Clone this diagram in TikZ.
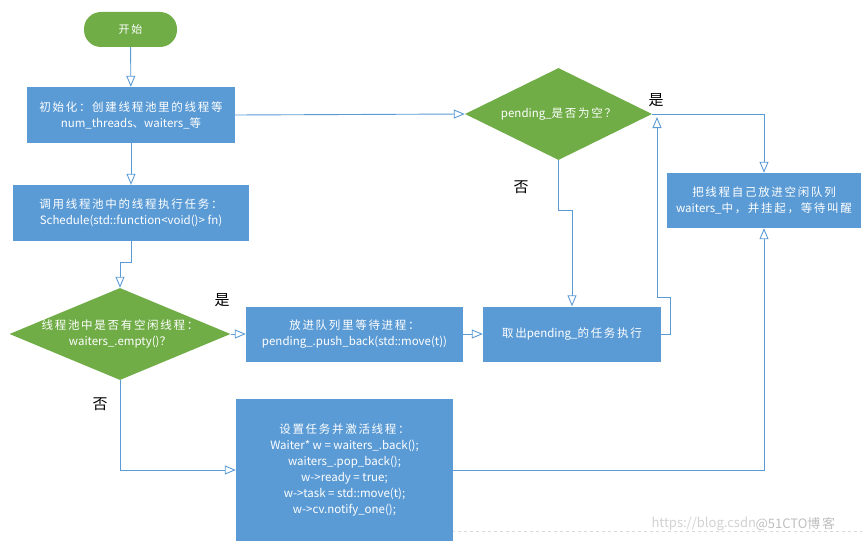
\documentclass[tikz,border=0pt]{standalone}
\usepackage{fontspec}
\setmainfont{Noto Sans CJK SC}
\usetikzlibrary{arrows.meta,shapes.geometric}
\newXeTeXintercharclass\mycjkclass
\makeatletter
\count@="4E00
\loop
  \XeTeXcharclass\count@=\mycjkclass
  \advance\count@ by 1
\ifnum\count@<"A000 \repeat
\makeatother
\XeTeXcharclass"FF1A=\mycjkclass
\XeTeXcharclass"FF0C=\mycjkclass
\XeTeXcharclass"FF1F=\mycjkclass
\XeTeXcharclass"3001=\mycjkclass
\XeTeXinterchartokenstate=1
\XeTeXinterchartoks\mycjkclass\mycjkclass={\hskip 1.7pt\relax}
\definecolor{boxblue}{HTML}{5B9BD5}
\definecolor{dgreen}{HTML}{70AD47}
\definecolor{lineblue}{HTML}{5B9BD5}
\tikzset{
  boxnode/.style={rectangle, fill=boxblue, text=white, align=center, inner sep=0pt,
    font=\fontsize{11.5}{16}\selectfont},
  decnode/.style={diamond, fill=dgreen, inner sep=0pt, aspect=2.4},
  dectext/.style={text=white, align=center, font=\fontsize{11.5}{16}\selectfont},
  conn/.style={draw=lineblue, line width=0.9pt, -{Triangle[open, length=11pt, width=9pt]}},
  lbl/.style={font=\fontsize{15}{15}\selectfont, text=black},
}
\begin{document}
\begin{tikzpicture}[x=1pt,y=-1pt]
\useasboundingbox[fill=white] (0,0) rectangle (862,543);
% watermark
\draw[gray!30, dashed, line width=0.6pt] (236,531) -- (862,531);
\node[text=gray!35, font=\fontsize{13}{13}\selectfont, anchor=west] (wm1) at (648,524) {https://blog.csdn};
\node[text=gray!50, font=\fontsize{13}{13}\selectfont, anchor=west] (wm2) at (752,524) {@51CTO博客};

\node[rectangle, rounded corners=17pt, fill=dgreen, text=white, minimum width=93pt, minimum height=35pt,
  font=\fontsize{11}{13}\selectfont] (st) at (130.5,29.5) {开始};
\node[boxnode, minimum width=208pt, minimum height=56pt] (b1) at (131,115)
  {初始化：创建线程池里的线程等\\num\_threads、waiters\_等};
\node[boxnode, minimum width=236pt, minimum height=56pt] (b2) at (131,213)
  {调用线程池中的线程执行任务：\\Schedule(std::function<void()> fn)};
\node[decnode, minimum width=221pt, minimum height=92pt] (d1) at (120,334) {};
\node[dectext] (d1t) at (d1.center) {线程池中是否有空闲线程：\\waiters\_.empty()？};
\node[boxnode, minimum width=217pt, minimum height=55pt] (b3) at (354.5,334)
  {放进队列里等待进程：\\pending\_.push\_back(std::move(t))};
\node[boxnode, minimum width=178pt, minimum height=55pt] (b4) at (572,334)
  {取出pending\_的任务执行};
\node[boxnode, minimum width=217pt, minimum height=142pt] (b5) at (344.5,470)
  {设置任务并激活线程：\\Waiter* w = waiters\_.back();\\waiters\_.pop\_back();\\w->ready = true;\\w->task = std::move(t);\\w->cv.notify\_one();};
\node[decnode, minimum width=187pt, minimum height=92pt] (d2) at (558.5,114) {};
\node[dectext] (d2t) at (d2.center) {pending\_是否为空？};
\node[boxnode, minimum width=194pt, minimum height=55pt] (b6) at (764,200.5)
  {把线程自己放进空闲队列\\waiters\_中，并挂起，等待叫醒};

\coordinate (d2in) at (657,117);

\draw[conn] (st) -- (b1);
\draw[conn] (b1) -- (b2);
\draw[conn] (b2.south) -- ++(0,21) -| (d1.north);
\draw[conn] (b1.east) -- (d2.west);
\draw[conn] (d1.east) -- (b3.west);
\draw[conn] (d1.south) |- (b5.west);
\draw[conn] (b3) -- (b4);
\draw[conn] (d2.south) -- ++(0,50) -| (b4.north);
\draw[conn] (d2.east) -| (b6.north);
\draw[conn] (b4.east) -- ++(9,0) -- ++(0,-37) -| (d2in);
\draw[conn] (b5.east) -| (b6.south);

\node[lbl] (l1) at (222,300) {是};
\node[lbl] (l2) at (100,404) {否};
\node[lbl] (l3) at (521,187) {否};
\node[lbl] (l4) at (656,100) {是};
\end{tikzpicture}
\end{document}
